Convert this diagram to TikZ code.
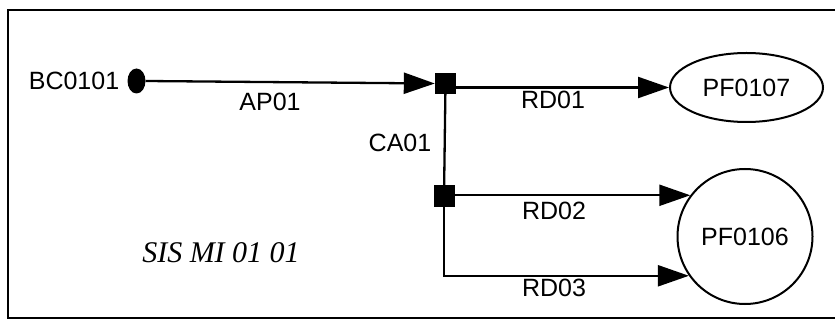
\documentclass[tikz,border=0pt]{standalone}
\usepackage{fontspec}
\setmainfont{Liberation Sans}
\newfontfamily\capfont{Liberation Serif}
\usetikzlibrary{arrows.meta,shapes.geometric}
\begin{document}
\begin{tikzpicture}[x=1pt,y=-1pt,
  lbl/.style={font=\fontsize{25}{30}\selectfont, inner sep=0pt},
  conn/.style={line width=2.3pt},
  arr/.style={conn, -{Triangle[length=31pt,width=21pt]}},
  junction/.style={fill=black, draw=none, minimum size=21pt, inner sep=0pt},
  place/.style={draw, line width=2pt, inner sep=0pt, font=\fontsize{25}{30}\selectfont}]
\useasboundingbox (0,0) rectangle (835,320);
% frame
\draw[line width=2pt] (840,10) -- (8,10) -- (8,318) -- (840,318);
% nodes
\node[lbl] (bcl) at (74,81) {BC0101};
\node[fill=black, ellipse, minimum width=18pt, minimum height=25pt, inner sep=0pt] (dot) at (136.5,81) {};
\node[junction] (sq1) at (445.5,83.5) {};
\node[junction, minimum height=22pt] (sq2) at (444,196.5) {};
\node[place, ellipse, minimum width=153pt, minimum height=69pt] (pf7) at (746.5,87.5) {PF0107};
\node[place, circle, minimum size=135pt] (pf6) at (745,236.5) {PF0106};
% labels
\node[lbl] (ap) at (270,101.5) {AP01};
\node[lbl] (ca) at (400,142.5) {CA01};
\node[lbl] (rd1) at (553,99.5) {RD01};
\node[lbl] (rd2) at (554,211) {RD02};
\node[lbl] (rd3) at (554,287.5) {RD03};
\node[inner sep=0pt, font=\capfont\itshape\fontsize{30}{36}\selectfont] (sis) at (221,253) {SIS MI 01 01};
% connectors
\draw[arr] (dot.east) -- (sq1.west);
\draw[arr] (sq1.east |- pf7.west) -- (pf7.west);
\draw[conn] (sq1.center) -- (sq2.center);
\draw[arr] (sq2.east |- pf6.143) -- (pf6.143);
\draw[arr] (sq2.center) -- (sq2.center |- pf6.215) -- (pf6.215);
\end{tikzpicture}
\end{document}
